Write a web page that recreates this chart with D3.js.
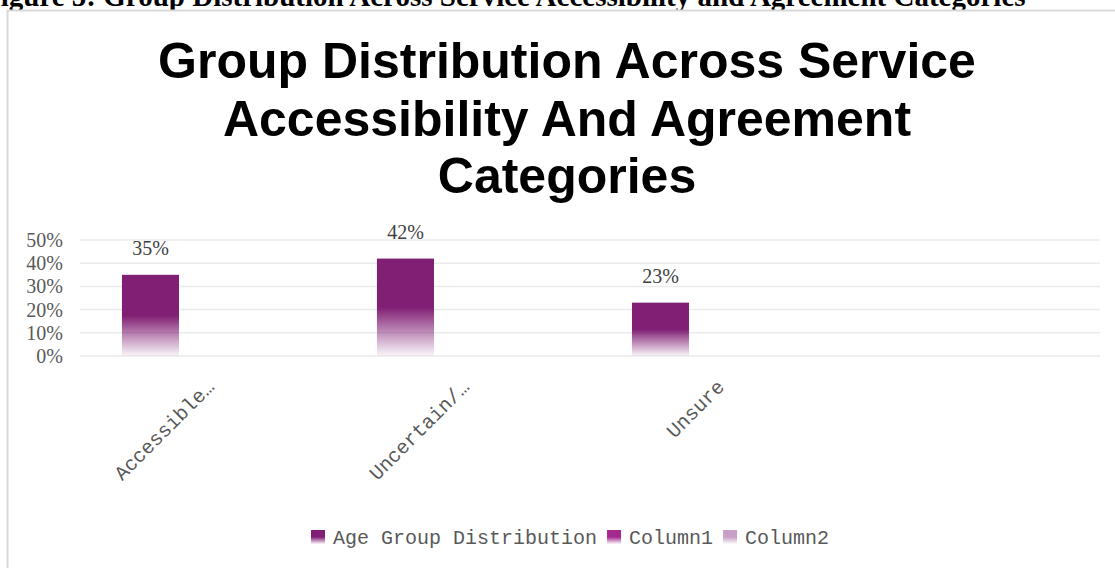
<!DOCTYPE html>
<html>
<head>
<meta charset="utf-8">
<script src="https://cdn.jsdelivr.net/npm/d3@7"></script>
<style>
  html, body { margin: 0; padding: 0; background: #fff; overflow: hidden; }
  svg { display: block; }
</style>
</head>
<body>
<svg id="chart"></svg>
<script>
const width = 1115;
const height = 568;

// data
const categories = ["Accessible…", "Uncertain/…", "Unsure", ""];
const series = ["Age Group Distribution", "Column1", "Column2"];
const ageGroup = [0.35, 0.42, 0.23, null];
const column1 = [null, null, null, null];
const column2 = [null, null, null, null];
const yTicks = [0, 0.1, 0.2, 0.3, 0.4, 0.5];
const titleLines = ["Group Distribution Across Service", "Accessibility And Agreement", "Categories"];
const caption = "Figure 5: Group Distribution Across Service Accessibility and Agreement Categories";

const seriesColors = ["#801f74", "#a3298f", "#c9a0c5"];
const values = [ageGroup, column1, column2];

const svg = d3.select("#chart").attr("width", width).attr("height", height);

// gradients: solid top half, fading out to the bottom
const defs = svg.append("defs");
seriesColors.forEach((c, i) => {
  const g = defs.append("linearGradient")
    .attr("id", "grad" + i)
    .attr("x1", 0).attr("y1", 0).attr("x2", 0).attr("y2", 1);
  g.append("stop").attr("offset", 0).attr("stop-color", c);
  g.append("stop").attr("offset", 0.5).attr("stop-color", c);
  g.append("stop").attr("offset", 1).attr("stop-color", c).attr("stop-opacity", 0.04);
});

// caption above the frame (cut off at the top of the page, as in the original)
svg.append("text")
  .attr("x", -17)
  .attr("y", 6)
  .attr("font-family", "Liberation Serif, Times New Roman, serif")
  .attr("font-weight", "bold")
  .attr("font-size", 29)
  .attr("fill", "#000")
  .text(caption);

// chart frame
svg.append("rect")
  .attr("x", 7.5).attr("y", 10.5)
  .attr("width", 1200).attr("height", 700)
  .attr("fill", "#fff")
  .attr("stroke", "#d9d9d9")
  .attr("stroke-width", 2);

// title
svg.append("g").selectAll("text")
  .data(titleLines)
  .enter().append("text")
  .attr("x", 567)
  .attr("y", (d, i) => 78 + i * 57.5)
  .attr("text-anchor", "middle")
  .attr("font-family", "Liberation Sans, Arial, sans-serif")
  .attr("font-weight", "bold")
  .attr("font-size", 50)
  .attr("fill", "#000")
  .text(d => d);

const plot = { left: 80, right: 1100, top: 240, bottom: 356 };

const x = d3.scaleBand()
  .domain(categories)
  .range([plot.left, plot.right])
  .paddingInner(0.329)
  .paddingOuter(0.1645);

const xs = d3.scaleBand()
  .domain(series)
  .range([0, x.bandwidth()]);

const y = d3.scaleLinear()
  .domain([0, 0.5])
  .range([plot.bottom, plot.top]);

// gridlines
svg.append("g")
  .selectAll("line")
  .data(yTicks)
  .enter().append("line")
  .attr("x1", plot.left).attr("x2", plot.right)
  .attr("y1", d => y(d)).attr("y2", d => y(d))
  .attr("stroke", "#ebebeb")
  .attr("stroke-width", 1.5);

// y axis labels
const yAxis = svg.append("g")
  .attr("transform", `translate(${plot.left},0)`)
  .call(d3.axisLeft(y).tickValues(yTicks).tickFormat(d3.format(".0%")).tickSize(0).tickPadding(17));
yAxis.select(".domain").remove();
yAxis.selectAll("text")
  .attr("font-family", "Liberation Serif, Times New Roman, serif")
  .attr("font-size", 20)
  .attr("fill", "#595959");

// bars
series.forEach((s, si) => {
  const data = categories.map((c, i) => ({ cat: c, v: values[si][i] })).filter(d => d.v != null);
  const g = svg.append("g");
  g.selectAll("rect")
    .data(data)
    .enter().append("rect")
    .attr("x", d => x(d.cat) + xs(s))
    .attr("y", d => y(d.v))
    .attr("width", xs.bandwidth())
    .attr("height", d => y(0) - y(d.v))
    .attr("fill", `url(#grad${si})`);
  g.selectAll("text")
    .data(data)
    .enter().append("text")
    .attr("x", d => x(d.cat) + xs(s) + xs.bandwidth() / 2)
    .attr("y", d => y(d.v) - 20)
    .attr("text-anchor", "middle")
    .attr("font-family", "Liberation Serif, Times New Roman, serif")
    .attr("font-size", 20)
    .attr("fill", "#404040")
    .text(d => d3.format(".0%")(d.v));
});

// x axis labels, rotated
svg.append("g")
  .selectAll("text")
  .data(categories.filter(c => c !== ""))
  .enter().append("text")
  .attr("transform", d => `translate(${x(d) + x.bandwidth() / 2 + 8},388) rotate(-45)`)
  .attr("text-anchor", "end")
  .attr("font-family", "Liberation Mono, Courier New, monospace")
  .attr("font-size", 20)
  .attr("fill", "#595959")
  .text(d => d);

// legend
const legend = svg.append("g").attr("transform", "translate(311,530)");
let lx = 0;
series.forEach((s, i) => {
  const item = legend.append("g").attr("transform", `translate(${lx},0)`);
  item.append("rect")
    .attr("width", 14).attr("height", 14)
    .attr("fill", `url(#grad${i})`);
  const t = item.append("text")
    .attr("x", 22).attr("y", 14)
    .attr("font-family", "Liberation Mono, Courier New, monospace")
    .attr("font-size", 20)
    .attr("fill", "#595959")
    .text(s);
  lx += 22 + t.node().getComputedTextLength() + 10;
});
</script>
</body>
</html>
